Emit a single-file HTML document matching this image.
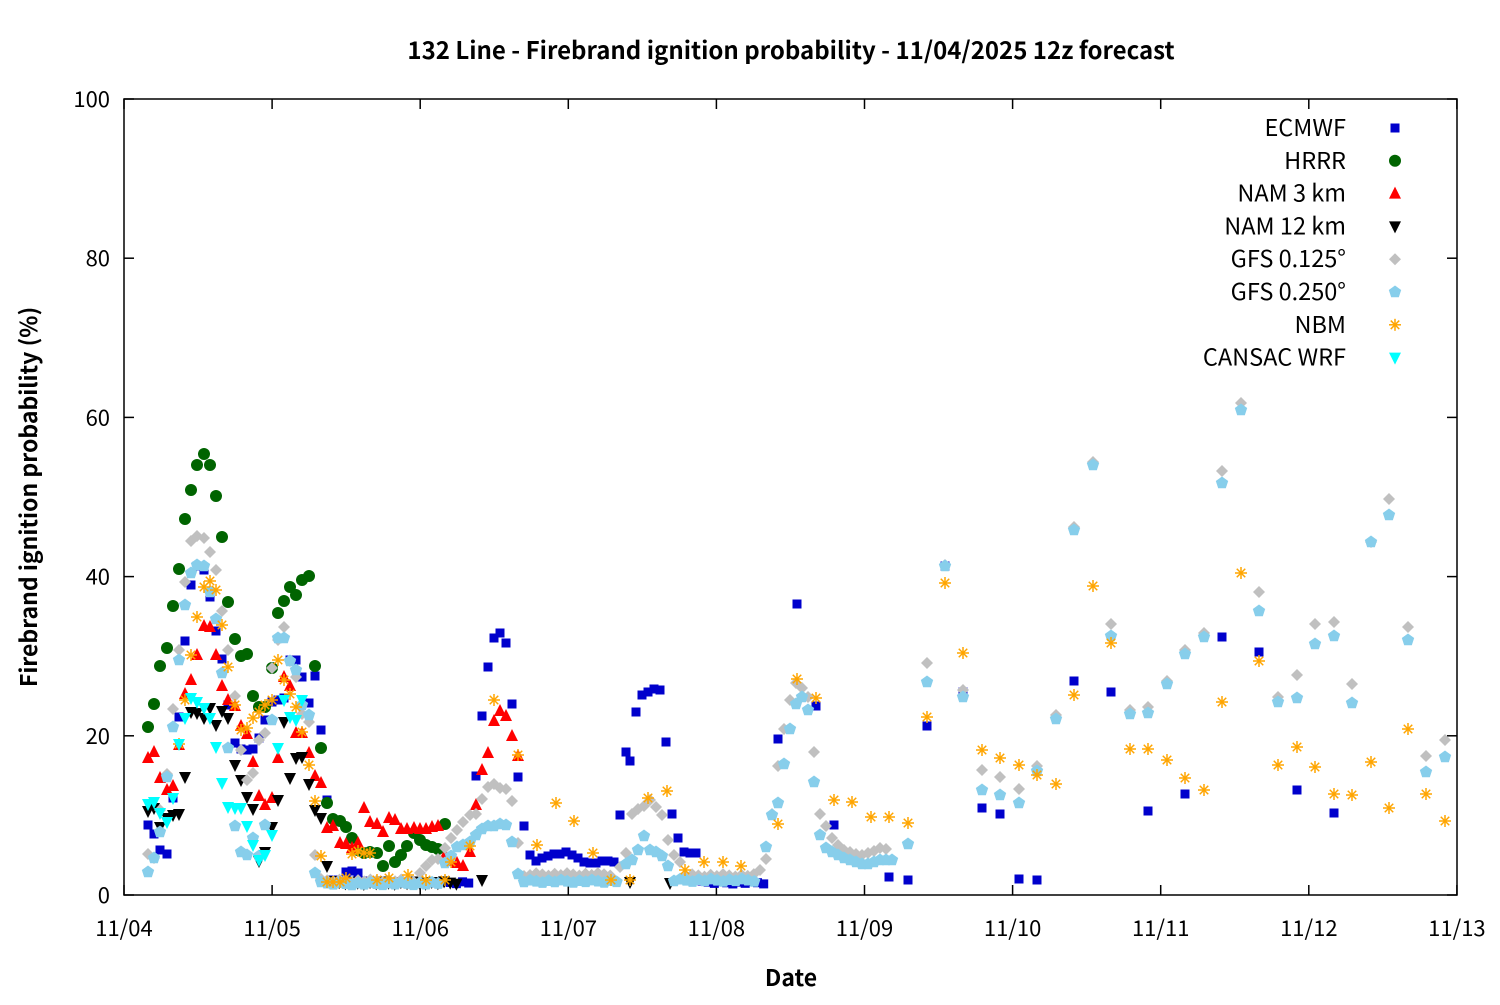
<!DOCTYPE html>
<html><head><meta charset="utf-8"><style>
body{margin:0;background:#fff}
svg text{font-family:"Noto Sans CJK JP","Liberation Sans",sans-serif;fill:#000}
</style></head><body>
<svg id="s" width="1500" height="1000" xmlns="http://www.w3.org/2000/svg">
<rect width="1500" height="1000" fill="#fff"/>
<text x="791" y="59" font-size="24" font-weight="bold" text-anchor="middle">132 Line - Firebrand ignition probability - 11/04/2025 12z forecast</text>
<g id="ax"></g>
<g id="pts"></g>
<rect x="124" y="99" width="1333" height="796" fill="none" stroke="#000" stroke-width="1.5"/>
<text x="791" y="986" font-size="23" font-weight="bold" text-anchor="middle">Date</text>
<text transform="translate(37,497) rotate(-90)" font-size="23" font-weight="bold" text-anchor="middle">Firebrand ignition probability (%)</text>
</svg>
<script>
var NS="http://www.w3.org/2000/svg",ax=document.getElementById('ax'),P=document.getElementById('pts');
function el(t,a,p){var e=document.createElementNS(NS,t);for(var k in a)e.setAttribute(k,a[k]);(p||P).appendChild(e);return e;}
for(var i=0;i<=5;i++){var y=895-i*159.2;el('line',{x1:124,x2:134,y1:y,y2:y,stroke:'#000','stroke-width':1.5},ax);el('line',{x1:1447,x2:1457,y1:y,y2:y,stroke:'#000','stroke-width':1.5},ax);var t=el('text',{x:110,y:y+8,'font-size':22,'text-anchor':'end'},ax);t.textContent=i*20;}
var d=['11/04','11/05','11/06','11/07','11/08','11/09','11/10','11/11','11/12','11/13'];
for(var i=0;i<10;i++){var x=124+i*148.1;el('line',{x1:x,x2:x,y1:895,y2:885,stroke:'#000','stroke-width':1.5},ax);el('line',{x1:x,x2:x,y1:99,y2:109,stroke:'#000','stroke-width':1.5},ax);var t=el('text',{x:x,y:936,'font-size':22,'text-anchor':'middle'},ax);t.textContent=d[i];}
function sq(x,y,c){el('rect',{x:x-4.5,y:y-4.5,width:9,height:9,fill:c});}
function ci(x,y,c){el('circle',{cx:x,cy:y,r:6,fill:c});}
function tu(x,y,c){el('polygon',{points:(x-6)+','+(y+5)+' '+(x+6)+','+(y+5)+' '+x+','+(y-7),fill:c});}
function td(x,y,c){el('polygon',{points:(x-6)+','+(y-5)+' '+(x+6)+','+(y-5)+' '+x+','+(y+7),fill:c});}
function di(x,y,c){el('polygon',{points:x+','+(y-6)+' '+(x+6)+','+y+' '+x+','+(y+6)+' '+(x-6)+','+y,fill:c});}
function pe(x,y,c){var p=[];for(var k=0;k<5;k++){var a=-Math.PI/2+k*2*Math.PI/5;p.push((x+6.5*Math.cos(a))+','+(y+6.5*Math.sin(a)));}el('polygon',{points:p.join(' '),fill:c});}
function as(x,y,c){for(var k=0;k<4;k++){var a=k*Math.PI/4;el('line',{x1:x-6*Math.cos(a),y1:y-6*Math.sin(a),x2:x+6*Math.cos(a),y2:y+6*Math.sin(a),stroke:c,'stroke-width':1.5});}}
function run(f,c,a){for(var i=0;i<a.length;i+=2)f(a[i],a[i+1],c);}
function flat(x0,x1,y,st){var r=[];for(var x=x0;x<=x1;x+=st)r.push(x,y+((x*7)%3-1));return r;}
var B='#0000cc',G='#006400',R='#ff0000',K='#000',GR='#c0c0c0',LB='#87ceeb',O='#ffa500',CY='#00ffff';
run(sq,B,[148,825,154,834,160,850,167,854,173,798,179,717,185,641,191,585,197,566,204,570,210,597,216,631,222,659,228,705,235,743,241,749,247,750,253,749,259,738,265,720,272,702,278,700,284,698,290,660,296,660,302,677,309,703,315,676,321,730,327,800,333,880,340,883,346,872,352,871,358,873,364,881].concat(flat(370,470,882,6.17)).concat([476,776,482,716,488,667,494,638,500,633,506,643,512,704,518,777,524,826,530,855,536,861,542,858,548,856,554,854,560,854,566,852,572,855,578,858,584,862,590,863,596,863,602,861,608,861,614,862,620,815,626,752,630,761,636,712,642,695,648,692,654,689,660,690,666,742,672,814,678,838,684,852,690,853,696,853]).concat(flat(702,765,882,6.17)).concat([778,739,797,604,816,706,834,825,889,877,908,880,927,726,945,566,963,692,982,808,1000,814,1019,879,1037,880,1074,681,1111,692,1148,811,1185,794,1222,637,1259,652,1297,790,1334,813]));
run(ci,G,[148,727,154,704,160,666,167,648,173,606,179,569,185,519,191,490,197,465,204,454,210,465,216,496,222,537,228,602,235,639,241,656,247,654,253,696,259,707,265,707,272,668,278,613,284,601,290,587,296,595,302,580,309,576,315,666,321,748,327,803,333,819,340,821,346,827,352,838,358,850,364,853,370,852,377,853,383,866,389,846,395,862,401,855,407,846,414,833,420,840,426,845,432,847,438,849,445,824]);
run(tu,R,[148,758,154,752,160,778,167,790,173,786,179,745,185,694,191,680,197,655,204,626,210,627,216,655,222,686,228,700,235,706,241,726,247,734,253,762,259,796,265,805,272,798,278,758,284,677,290,686,296,733,302,733,309,753,315,776,321,783,327,828,333,826,340,843,346,844,352,848,358,843,364,808,370,822,377,824,383,832,389,818,395,820,401,829,407,829,414,828,420,829,426,829,432,827,438,826,445,855,451,861,457,863,463,866,470,852,476,805,482,770,488,753,494,721,500,711,506,716,512,736,518,756]);
run(td,K,[148,811,154,808,160,827,167,818,173,815,179,814,185,777,191,712,197,713,204,718,210,708,216,725,222,711,228,718,235,765,241,780,247,797,253,809,259,861,265,852,272,827,278,800,284,722,290,778,296,758,302,757,309,784,315,810,321,818,327,866].concat(flat(333,460,882,6.17)).concat([482,880,630,882,670,883]));
run(di,GR,[148,854,154,858,160,810,167,774,173,709,179,650,185,582,191,541,197,536,204,538,210,552,216,570,222,611,228,650,235,696,241,750,247,780,253,773,259,740,265,733,272,668,278,640,284,627,290,661,296,677,302,714,309,722,315,855].concat(flat(321,414,880,6.17)).concat([420,873,426,866,432,860,438,859,445,848,451,838,457,830,463,822,470,815,476,814,482,799,488,787,494,784,500,788,506,789,512,801,518,843,524,876]).concat(flat(530,614,874,6.17)).concat([620,867,626,853,632,814,638,809,644,806,650,800,656,807,662,815,668,840,674,855,680,862]).concat(flat(686,755,875,6.17)).concat([760,870,766,859,772,814,778,766,784,729,790,700,796,683,802,688,808,697,814,752,820,814,826,826,832,838,838,845,844,850,850,852,856,854,862,855,868,853,874,851,880,848,886,849,927,663,945,565,963,690,982,770,1000,777,1019,789,1037,766,1056,715,1074,527,1093,462,1111,624,1130,710,1148,707,1167,681,1185,650,1204,633,1222,471,1241,403,1259,592,1278,697,1297,675,1315,624,1334,622,1352,684,1371,542,1389,499,1408,627,1426,756,1445,740]));
run(pe,LB,[148,872,154,858,160,832,167,777,173,727,179,660,185,605,191,573,197,565,204,566,210,592,216,619,222,673,228,748,235,826,241,852,247,855,253,838,259,856,265,825,272,720,278,638,284,638,290,661,296,670,302,705,309,715,315,873].concat(flat(321,440,883,6.17)).concat([445,863,451,856,457,847,463,845,470,842,476,835,482,829,488,826,494,826,500,824,506,825,512,842,518,874]).concat(flat(524,620,881,6.17)).concat([626,864,632,860,638,850,644,836,650,850,656,852,662,856,668,866]).concat(flat(674,760,880,6.17)).concat([766,847,772,815,778,803,784,764,790,729,796,704,802,697,808,710,814,782,820,835,826,848,832,852,838,855,844,858,850,860,856,862,862,864,868,864,874,862,880,860,886,860,892,860,908,844,927,682,945,566,963,697,982,790,1000,795,1019,803,1037,771,1056,719,1074,530,1093,465,1111,636,1130,714,1148,713,1167,684,1185,654,1204,637,1222,483,1241,410,1259,611,1278,702,1297,698,1315,644,1334,636,1352,703,1371,542,1389,515,1408,640,1426,772,1445,757]));
run(as,O,[179,744,185,700,191,655,197,617,204,587,210,581,216,590,222,625,228,667,235,705,241,730,247,728,253,718,259,712,265,705,272,700,278,660,284,680,290,694,296,707,302,732,309,765,315,801,321,856,327,882,333,882,340,882,346,878,352,854,358,851,364,853,370,853,377,880,389,878,408,875,426,880,445,880,451,862,470,846,494,700,518,755,537,845,556,803,574,821,593,853,611,880,630,880,648,798,667,791,685,870,704,862,723,862,741,866,778,824,797,679,816,698,834,800,852,802,871,817,889,817,908,823,927,717,945,583,963,653,982,750,1000,758,1019,765,1037,775,1056,784,1074,695,1093,586,1111,643,1130,749,1148,749,1167,760,1185,778,1204,790,1222,702,1241,573,1259,661,1278,765,1297,747,1315,767,1334,794,1352,795,1371,762,1389,808,1408,729,1426,794,1445,821]);
run(td,CY,[148,804,154,802,160,813,167,822,173,798,179,744,185,718,191,698,197,702,204,708,210,718,216,747,222,783,228,807,235,808,241,808,247,826,253,845,259,860,265,855,272,835,278,748,284,700,290,717,296,720,302,700]);
var L=[['ECMWF',sq,B],['HRRR',ci,G],['NAM 3 km',tu,R],['NAM 12 km',td,K],['GFS 0.125°',di,GR],['GFS 0.250°',pe,LB],['NBM',as,O],['CANSAC WRF',td,CY]];
for(var i=0;i<L.length;i++){var y=128+i*32.8;var t=el('text',{x:1346,y:y+8,'font-size':23.5,'text-anchor':'end'});t.textContent=L[i][0];L[i][1](1395,y,L[i][2]);}
</script>
</body></html>
